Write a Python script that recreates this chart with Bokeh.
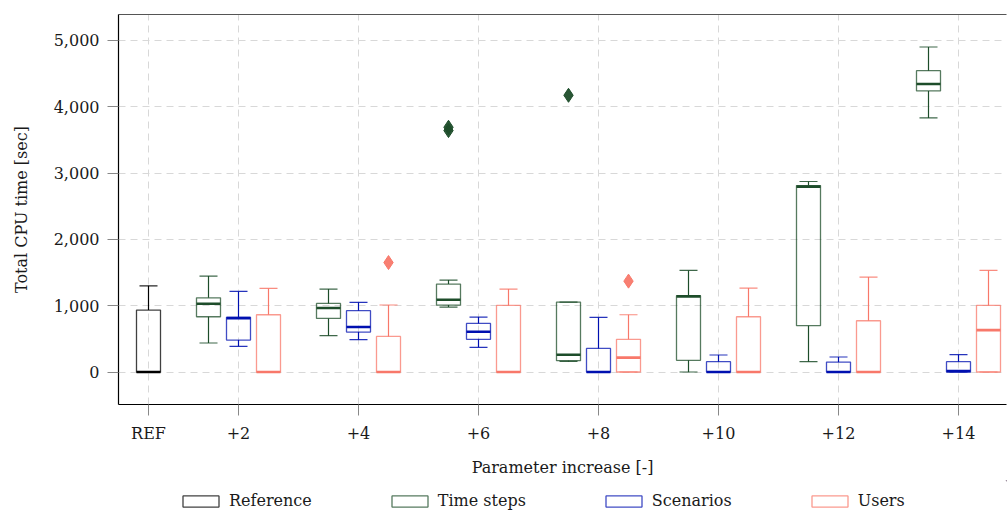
from bokeh.plotting import figure
from bokeh.layouts import column
from bokeh.models import (ColumnDataSource, Range1d, FixedTicker, LinearAxis,
                          NumeralTickFormatter, Legend, LegendItem)
from bokeh.embed import file_html
from bokeh.resources import INLINE

# ---------------- data ----------------
categories = ["REF", "+2", "+4", "+6", "+8", "+10", "+12", "+14"]

ref_low = [0]
ref_q1 = [0]
ref_med = [0]
ref_q3 = [934]
ref_high = [1300]

ts_low = [437, 547, 979, 160, 0, 155, 3830]
ts_q1 = [833, 808, 1009, 171, 176, 698, 4237]
ts_med = [1029, 964, 1089, 261, 1140, 2795, 4342]
ts_q3 = [1119, 1034, 1325, 1054, 1150, 2811, 4543]
ts_high = [1446, 1250, 1386, 1054, 1531, 2872, 4900]
ts_out_cat = ["+6", "+6", "+8"]
ts_out_val = [3640, 3690, 4172]

sc_low = [387, 487, 372, 0, 0, 0, 0]
sc_q1 = [482, 602, 492, 0, 0, 0, 0]
sc_med = [812, 678, 607, 0, 0, 0, 15]
sc_q3 = [825, 924, 733, 356, 155, 150, 155]
sc_high = [1215, 1049, 828, 823, 256, 226, 261]

us_low = [0, 0, 0, 0, 0, 0, 0]
us_q1 = [0, 0, 0, 0, 0, 0, 0]
us_med = [0, 0, 0, 216, 0, 0, 632]
us_q3 = [863, 537, 1004, 492, 833, 773, 1004]
us_high = [1260, 1010, 1250, 863, 1265, 1431, 1531]
us_out_cat = ["+4", "+8"]
us_out_val = [1650, 1370]

series_labels = ["Reference", "Time steps", "Scenarios", "Users"]
series_colors = ["#000000", "#1d4d2a", "#0010b0", "#f8786a"]

# ---------------- layout helpers ----------------
FONT = "DejaVu Serif"
TXT = "#1a1a1a"
BOX_W = 0.8
CAP_W = 0.6

tick_pos = [1] + [4 * k for k in range(1, len(categories))]
offset = {"ts": -1, "sc": 0, "us": 1}


def slot(cat, series):
    i = categories.index(cat)
    if i == 0:
        return 1
    return 4 * i + offset[series]


p = figure(width=1008, height=480, output_backend="svg",
           toolbar_location=None,
           x_range=Range1d(0, 29.6), y_range=Range1d(-490, 5390),
           min_border_left=118, min_border_right=2, min_border_top=14,
           min_border_bottom=76)
p.outline_line_color = None
p.background_fill_color = "white"

# grids
p.xgrid.ticker = FixedTicker(ticks=tick_pos)
p.ygrid.ticker = FixedTicker(ticks=[0, 1000, 2000, 3000, 4000, 5000])
for g in (p.xgrid, p.ygrid):
    g.grid_line_color = "#d8d8d8"
    g.grid_line_dash = "7 5"
    g.grid_line_width = 1

# axes
p.xaxis.ticker = FixedTicker(ticks=tick_pos)
p.xaxis.major_label_overrides = {t: c for t, c in zip(tick_pos, categories)}
p.yaxis.ticker = FixedTicker(ticks=[0, 1000, 2000, 3000, 4000, 5000])
p.yaxis.formatter = NumeralTickFormatter(format="0,0")
p.xaxis.axis_label = "Parameter increase [-]"
p.yaxis.axis_label = "Total CPU time [sec]"
for ax in (p.xaxis, p.yaxis):
    ax.axis_line_color = "black"
    ax.axis_line_width = 1.2
    ax.major_tick_line_color = "#888888"
    ax.major_tick_out = 11
    ax.major_tick_in = 0
    ax.minor_tick_line_color = None
    ax.major_label_text_font = FONT
    ax.major_label_text_font_size = "16px"
    ax.major_label_text_color = TXT
    ax.axis_label_text_font = FONT
    ax.axis_label_text_font_size = "16px"
    ax.axis_label_text_font_style = "normal"
    ax.axis_label_text_color = TXT
p.xaxis.major_label_standoff = 8
p.xaxis.axis_label_standoff = 12
p.yaxis.major_label_standoff = 8
p.yaxis.axis_label_standoff = 20

top = LinearAxis(ticker=FixedTicker(ticks=[]), axis_line_color="#555555",
                 axis_line_width=1.2, major_label_text_font_size="0px",
                 major_tick_line_color=None, minor_tick_line_color=None,
                 major_label_standoff=0)
p.add_layout(top, "above")


def draw_series(key, cats, low, q1, med, q3, high, color,
                out_cats=None, out_vals=None):
    xs = [slot(c, key) for c in cats]
    src = ColumnDataSource(dict(
        x=xs, low=low, q1=q1, med=med, q3=q3, high=high,
        xl=[x - BOX_W / 2 for x in xs], xr=[x + BOX_W / 2 for x in xs],
        cl=[x - CAP_W / 2 for x in xs], cr=[x + CAP_W / 2 for x in xs]))
    p.segment(x0="x", y0="q3", x1="x", y1="high", source=src,
              line_color=color, line_width=1.2)
    p.segment(x0="x", y0="q1", x1="x", y1="low", source=src,
              line_color=color, line_width=1.2)
    p.segment(x0="cl", y0="high", x1="cr", y1="high", source=src,
              line_color=color, line_width=1.2, line_alpha=0.85)
    p.segment(x0="cl", y0="low", x1="cr", y1="low", source=src,
              line_color=color, line_width=1.2, line_alpha=0.85)
    p.vbar(x="x", width=BOX_W, bottom="q1", top="q3", source=src,
           fill_color=None, line_color=color, line_width=1.3, line_alpha=0.75)
    p.segment(x0="xl", y0="med", x1="xr", y1="med", source=src,
              line_color=color, line_width=2.6)
    if out_cats:
        osrc = ColumnDataSource(dict(x=[slot(c, key) for c in out_cats],
                                     y=out_vals))
        p.scatter(x="x", y="y", source=osrc, marker="diamond", size=14,
                  fill_color=color, line_color=color, fill_alpha=0.95)


draw_series("ref", ["REF"], ref_low, ref_q1, ref_med, ref_q3, ref_high,
            series_colors[0])
draw_series("ts", categories[1:], ts_low, ts_q1, ts_med, ts_q3, ts_high,
            series_colors[1], ts_out_cat, ts_out_val)
draw_series("sc", categories[1:], sc_low, sc_q1, sc_med, sc_q3, sc_high,
            series_colors[2])
draw_series("us", categories[1:], us_low, us_q1, us_med, us_q3, us_high,
            series_colors[3], us_out_cat, us_out_val)

# ---------------- legend strip (separate small figure) ----------------
lg = figure(width=1008, height=42, output_backend="svg",
            toolbar_location=None, x_range=Range1d(0, 1),
            y_range=Range1d(0, 1), min_border=0)
lg.axis.visible = False
lg.grid.visible = False
lg.outline_line_color = None

items = []
for lab, col in zip(series_labels, series_colors):
    # placeholder renderer kept outside the visible range; only its legend
    # swatch is shown
    r = lg.vbar(x=[5.0], top=[5.0], bottom=[4.0], width=0.1,
                fill_color=None, line_color=col, line_width=1.3,
                line_alpha=0.75)
    items.append(LegendItem(label=lab, renderers=[r]))

legend = Legend(items=items, orientation="horizontal", location=(60, 12),
                border_line_color=None, background_fill_alpha=0,
                glyph_width=45, glyph_height=14, spacing=75,
                label_standoff=6, label_text_font=FONT,
                label_text_font_size="16px", label_text_color=TXT,
                margin=0, padding=2)
lg.add_layout(legend, "center")

layout = column(p, lg, spacing=0)
open("out.html", "w").write(file_html(layout, INLINE))
